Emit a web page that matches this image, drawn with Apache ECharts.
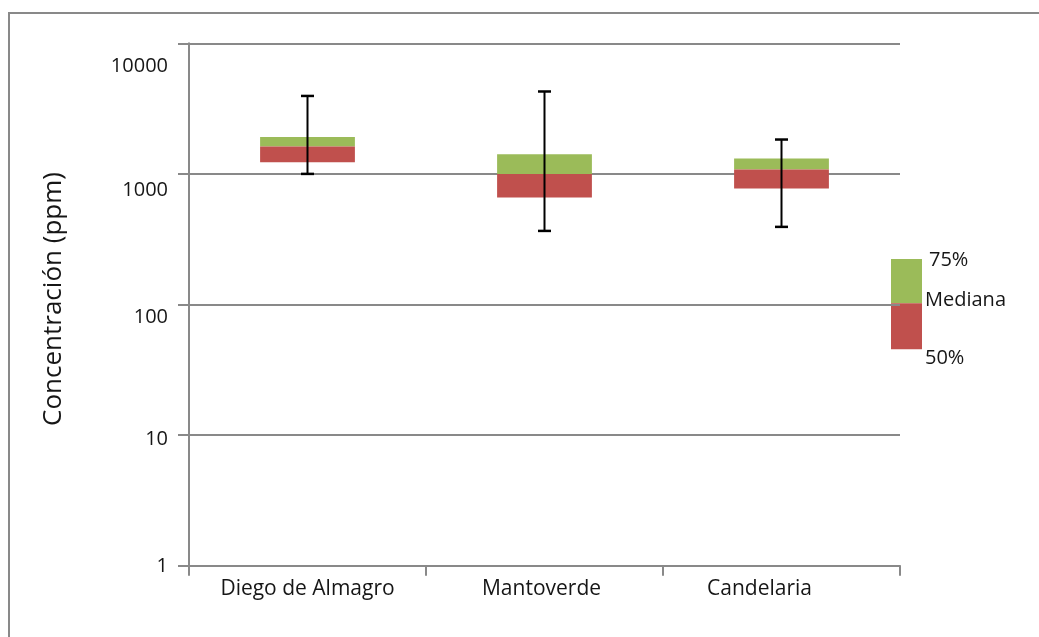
<!DOCTYPE html>
<html>
<head>
<meta charset="utf-8">
<script src="https://cdn.jsdelivr.net/npm/echarts@6/dist/echarts.min.js"></script>
<style>
html,body{margin:0;padding:0;background:#fff;}
#chart{width:1039px;height:637px;}
</style>
</head>
<body>
<div id="chart"></div>
<script>
// ---- data ----
const categories = ['Diego de Almagro', 'Mantoverde', 'Candelaria'];
const whiskerMin = [1000, 366, 393];
const lowerBox   = [1229, 659, 773];   // "50%"
const medianVal  = [1622, 1000, 1081]; // "Mediana"
const upperBox   = [1919, 1415, 1312]; // "75%"
const whiskerMax = [3953, 4276, 1833];
const yTickLabels = ['1', '10', '100', '1000', '10000'];
const legendLabels = ['75%', 'Mediana', '50%'];
const yAxisTitle = 'Concentración (ppm)';

// ---- styles ----
const GREEN = '#9BBB59';
const RED = '#C0504D';
const GRAY = '#898989';
const TEXT = '#161616';
const FONT = 'Open Sans';
// per-label vertical shift of y tick labels (px, downward)
const yLabelShift = {1: 1, 10: 4, 100: 13, 1000: 16, 10000: 23};
const xLabelShift = {'Candelaria': -22, 'Mantoverde': -3};

const chart = echarts.init(document.getElementById('chart'));

const rich = {};
Object.keys(yLabelShift).forEach(k => {
  rich['y' + k] = {fontFamily: FONT, fontSize: 20, color: TEXT, padding: [2 * yLabelShift[k], 0, 0, 0]};
});
const xrich = {};
categories.forEach((c, i) => {
  const s = xLabelShift[c] || 0;
  xrich['x' + i] = {fontFamily: FONT, fontSize: 21, color: TEXT,
    padding: s < 0 ? [0, -2 * s, 0, 0] : [0, 0, 0, 2 * s]};
});

const boxData = categories.map((c, i) => [i, whiskerMin[i], lowerBox[i], medianVal[i], upperBox[i], whiskerMax[i]]);

chart.setOption({
  animation: false,
  backgroundColor: '#fff',
  grid: {left: 189, right: 139, top: 43.3, bottom: 71.3, containLabel: false},
  xAxis: {
    type: 'category',
    data: categories,
    boundaryGap: true,
    axisLine: {show: true, lineStyle: {color: GRAY, width: 2}},
    axisTick: {show: true, length: 10, lineStyle: {color: GRAY, width: 2}},
    splitLine: {show: false},
    axisLabel: {
      interval: 0,
      margin: 13,
      fontFamily: FONT, fontSize: 21, color: TEXT,
      formatter: (v, i) => '{x' + i + '|' + v + '}',
      rich: xrich
    }
  },
  yAxis: {
    type: 'log',
    logBase: 10,
    min: 1,
    max: 10000,
    axisLine: {show: true, lineStyle: {color: GRAY, width: 2}},
    axisTick: {show: true, length: 11, lineStyle: {color: GRAY, width: 2}},
    splitLine: {show: true, lineStyle: {color: GRAY, width: 2}},
    axisLabel: {
      margin: 21,
      fontFamily: FONT, fontSize: 20, color: TEXT,
      formatter: (v) => {
        const key = String(Math.round(v));
        return yTickLabels.indexOf(key) >= 0 ? '{y' + key + '|' + key + '}' : '';
      },
      rich: rich
    }
  },
  series: [{
    type: 'custom',
    data: boxData,
    encode: {x: 0, y: [1, 2, 3, 4, 5]},
    renderItem: function (params, api) {
      const idx = api.value(0);
      const p0 = api.coord([idx, api.value(3)]);
      const band = api.coord([1, 1000])[0] - api.coord([0, 1000])[0];
      const bw = band * 0.4;
      const cx = p0[0];
      const yMin = api.coord([idx, api.value(1)])[1];
      const yLo = api.coord([idx, api.value(2)])[1];
      const yMed = api.coord([idx, api.value(3)])[1];
      const yUp = api.coord([idx, api.value(4)])[1];
      const yMax = api.coord([idx, api.value(5)])[1];
      const cap = 13;
      return {
        type: 'group',
        children: [
          {type: 'rect', shape: {x: cx - bw / 2, y: yUp, width: bw, height: yMed - yUp}, style: {fill: GREEN}},
          {type: 'rect', shape: {x: cx - bw / 2, y: yMed, width: bw, height: yLo - yMed}, style: {fill: RED}},
          {type: 'line', shape: {x1: cx, y1: yMax, x2: cx, y2: yMin}, style: {stroke: '#000', lineWidth: 2}},
          {type: 'line', shape: {x1: cx - cap / 2, y1: yMax, x2: cx + cap / 2, y2: yMax}, style: {stroke: '#000', lineWidth: 2.5}},
          {type: 'line', shape: {x1: cx - cap / 2, y1: yMin, x2: cx + cap / 2, y2: yMin}, style: {stroke: '#000', lineWidth: 2.5}}
        ]
      };
    }
  }],
  graphic: [
    {type: 'polyline', shape: {points: [[9, 637], [9, 13], [1039, 13]]}, style: {stroke: GRAY, lineWidth: 2, fill: null}},
    {type: 'text', x: 54, y: 299, rotation: Math.PI / 2,
      style: {text: yAxisTitle, fontFamily: FONT, fontSize: 26, fill: TEXT, align: 'center', verticalAlign: 'middle'}},
    {type: 'rect', shape: {x: 891, y: 259, width: 31, height: 44.3}, style: {fill: GREEN}},
    {type: 'rect', shape: {x: 891, y: 303.3, width: 31, height: 46}, style: {fill: RED}},
    {type: 'text', x: 929, y: 260, style: {text: legendLabels[0], fontFamily: FONT, fontSize: 20, fill: TEXT, align: 'left', verticalAlign: 'middle'}},
    {type: 'text', x: 925, y: 300, style: {text: legendLabels[1], fontFamily: FONT, fontSize: 20, fill: TEXT, align: 'left', verticalAlign: 'middle'}},
    {type: 'text', x: 925, y: 358, style: {text: legendLabels[2], fontFamily: FONT, fontSize: 20, fill: TEXT, align: 'left', verticalAlign: 'middle'}}
  ]
});
</script>
</body>
</html>
